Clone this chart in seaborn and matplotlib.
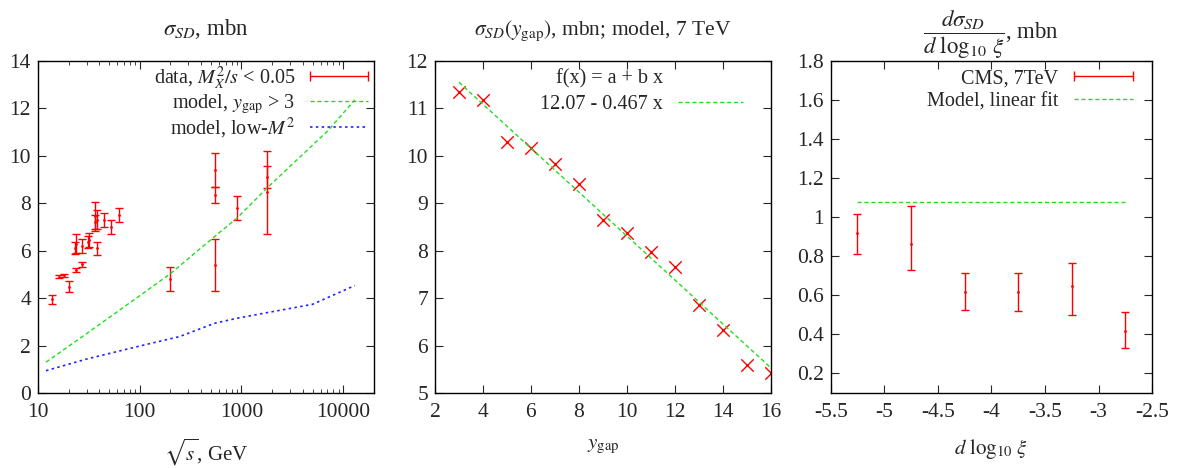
import numpy as np
import pandas as pd
import matplotlib
matplotlib.use("Agg")
import matplotlib.pyplot as plt
from matplotlib.lines import Line2D
from matplotlib.ticker import FixedLocator, FixedFormatter, LogLocator, NullFormatter
import seaborn as sns

# ---------------- data ----------------
# Panel 1: single diffraction cross section vs sqrt(s)
data_sqrt_s = [13.8, 16.2, 18.2, 20.0, 23.5, 23.0, 23.8, 27.0, 27.0, 31.0, 32.0,
               36.0, 36.0, 38.0, 38.0, 44.5, 52.5, 62.7, 200, 546, 546, 546,
               900, 1800, 1800]
data_sigma = [3.95, 4.9, 4.97, 4.48, 6.3, 6.1, 5.2, 6.2, 5.43, 6.35, 6.45,
              7.45, 7.2, 7.3, 6.1, 7.3, 7.0, 7.5, 4.8, 9.4, 8.35, 5.4,
              7.8, 9.12, 8.46]
data_err = [0.2, 0.07, 0.06, 0.23, 0.4, 0.25, 0.08, 0.3, 0.1, 0.25, 0.3,
            0.6, 0.3, 0.4, 0.28, 0.3, 0.28, 0.3, 0.5, 0.7, 0.35, 1.1,
            0.5, 0.47, 1.76]

gap_sqrt_s = [12, 30, 100, 200, 546, 900, 1800, 7000, 13000]
gap_sigma = [1.3, 2.5, 4.1, 5.03, 6.6, 7.37, 8.66, 11.04, 12.36]

lowm_sqrt_s = [12, 30, 100, 247, 546, 900, 1800, 5000, 13000]
lowm_sigma = [0.94, 1.43, 1.98, 2.38, 2.94, 3.15, 3.39, 3.74, 4.53]

# Panel 2: sigma_SD(y_gap), model 7 TeV
ygap = [3, 4, 5, 6, 7, 8, 9, 10, 11, 12, 13, 14, 15, 16]
sigma_ygap = [11.34, 11.17, 10.30, 10.16, 9.83, 9.40, 8.65, 8.38, 7.98, 7.65,
              6.85, 6.32, 5.58, 5.42]
fit_a = 12.94
fit_b = -0.463

# Panel 3: d sigma / d log10 xi, CMS 7 TeV
cms_x = [-5.25, -4.75, -4.25, -3.75, -3.25, -2.75]
cms_y = [0.92, 0.861, 0.618, 0.618, 0.649, 0.418]
cms_lo = [0.81, 0.729, 0.524, 0.519, 0.499, 0.328]
cms_hi = [1.014, 1.059, 0.716, 0.712, 0.767, 0.516]
model_level = 1.076

# ---------------- style ----------------
sns.set_style("ticks")
plt.rcParams['font.family'] = ['Liberation Serif', 'DejaVu Serif']
plt.rcParams['mathtext.fontset'] = 'stix'
plt.rcParams['font.size'] = 15
plt.rcParams['xtick.labelsize'] = 15.5
plt.rcParams['ytick.labelsize'] = 15.5
plt.rcParams['xtick.direction'] = 'in'
plt.rcParams['ytick.direction'] = 'in'
plt.rcParams['xtick.top'] = True
plt.rcParams['ytick.right'] = True
plt.rcParams['xtick.major.size'] = 6
plt.rcParams['ytick.major.size'] = 6
plt.rcParams['xtick.minor.size'] = 3
plt.rcParams['xtick.major.pad'] = 7
plt.rcParams['ytick.major.pad'] = 5
plt.rcParams['axes.linewidth'] = 1.0

RED = '#ff0000'
GREEN = '#22dd22'
BLUE = '#2222ff'

fig = plt.figure(figsize=(11.83, 4.68), dpi=100)
bottom, top = 0.1603, 0.8697
ax1 = fig.add_axes([0.0321, bottom, 0.316 - 0.0321, top - bottom])
ax2 = fig.add_axes([0.3677, bottom, 0.6515 - 0.3677, top - bottom])
ax3 = fig.add_axes([0.7022, bottom, 0.974 - 0.7022, top - bottom])

dash_style = (0, (3, 2))
dot_style = (0, (1.5, 2))

leg_kw = dict(frameon=False, markerfirst=False, borderaxespad=0,
              borderpad=0, fontsize=14.5, loc='upper right')

# ---------------- panel 1 ----------------
ax1.set_xscale('log')
ax1.errorbar(data_sqrt_s, data_sigma, yerr=data_err, fmt='.', color=RED,
             markersize=2, elinewidth=1.0, capsize=3, capthick=1.0)
df_gap = pd.DataFrame({'s': gap_sqrt_s, 'v': gap_sigma})
df_low = pd.DataFrame({'s': lowm_sqrt_s, 'v': lowm_sigma})
sns.lineplot(data=df_gap, x='s', y='v', ax=ax1, color=GREEN, lw=1.0,
             linestyle=dash_style)
sns.lineplot(data=df_low, x='s', y='v', ax=ax1, color=BLUE, lw=1.2,
             linestyle=dot_style)
ax1.set_xlim(10, 20000)
ax1.set_ylim(0, 14)
ax1.xaxis.set_major_locator(FixedLocator([10, 100, 1000, 10000]))
ax1.xaxis.set_major_formatter(FixedFormatter(['10', '100', '1000', '10000']))
ax1.xaxis.set_minor_locator(LogLocator(base=10, subs=np.arange(2, 10)))
ax1.xaxis.set_minor_formatter(NullFormatter())
ax1.set_yticks(np.arange(0, 15, 2))
ax1.set_title(r'$\sigma_{SD}$, mbn', pad=19, fontsize=16.5)
ax1.set_xlabel(r'$\sqrt{s}$, GeV', labelpad=11, fontsize=15)
ax1.set_ylabel('')

h_data = Line2D([], [], color=RED, lw=1.0, marker='|', markersize=7, mew=1.0)
h_gap = Line2D([], [], color=GREEN, lw=1.0, linestyle=dash_style)
h_low = Line2D([], [], color=BLUE, lw=1.2, linestyle=dot_style)
ax1.legend([h_data, h_gap, h_low],
           [r'data, $M_X^2/s$ < 0.05', r'model, $y_{\rm gap}$ > 3',
            r'model, low-$M^2$'],
           numpoints=2, handlelength=3.45, handletextpad=0.45,
           labelspacing=0.0, bbox_to_anchor=(1.0, 0.99), **leg_kw)

# ---------------- panel 2 ----------------
df_y = pd.DataFrame({'y': ygap, 's': sigma_ygap})
sns.scatterplot(data=df_y, x='y', y='s', ax=ax2, marker='x', color=RED,
                s=80, linewidth=1.0)
fit_line = pd.DataFrame({'y': ygap, 'f': [fit_a + fit_b * v for v in ygap]})
sns.lineplot(data=fit_line, x='y', y='f', ax=ax2, color=GREEN, lw=1.0,
             linestyle=dash_style)
ax2.set_xlim(2, 16)
ax2.set_ylim(5, 12)
ax2.set_xticks(np.arange(2, 17, 2))
ax2.set_yticks(np.arange(5, 13, 1))
ax2.set_title(r'$\sigma_{SD}(y_{\rm gap})$, mbn; model, 7 TeV', pad=19,
              fontsize=15.5)
ax2.set_xlabel(r'$y_{\rm gap}$', labelpad=11, fontsize=15)
ax2.set_ylabel('')
h_blank = Line2D([], [], color='none', lw=0)
h_fit = Line2D([], [], color=GREEN, lw=1.0, linestyle=dash_style)
ax2.legend([h_blank, h_fit], ['f(x) = a + b x', '12.07 - 0.467 x'],
           handlelength=3.2, handletextpad=0.75, labelspacing=0.3,
           bbox_to_anchor=(0.917, 0.975), **leg_kw)

# ---------------- panel 3 ----------------
yerr = [np.array(cms_y) - np.array(cms_lo), np.array(cms_hi) - np.array(cms_y)]
ax3.errorbar(cms_x, cms_y, yerr=yerr, fmt='.', color=RED, markersize=2,
             elinewidth=1.0, capsize=3, capthick=1.0)
df_model = pd.DataFrame({'x': [cms_x[0], cms_x[-1]],
                         'y': [model_level, model_level]})
sns.lineplot(data=df_model, x='x', y='y', ax=ax3, color=GREEN, lw=1.0,
             linestyle=dash_style)
ax3.set_xlim(-5.5, -2.5)
ax3.set_ylim(0.1, 1.8)
ax3.set_xticks([-5.5, -5, -4.5, -4, -3.5, -3, -2.5])
ax3.set_xticklabels(['-5.5', '-5', '-4.5', '-4', '-3.5', '-3', '-2.5'])
ax3.set_yticks([0.2, 0.4, 0.6, 0.8, 1.0, 1.2, 1.4, 1.6, 1.8])
ax3.set_yticklabels(['0.2', '0.4', '0.6', '0.8', '1', '1.2', '1.4', '1.6', '1.8'])
ax3.set_title(r'$\dfrac{d\sigma_{SD}}{d\ \log_{10}\,\xi}$, mbn', pad=12,
              fontsize=16.5)
ax3.set_xlabel(r'$d\ \log_{10}\,\xi$', labelpad=11, fontsize=15)
ax3.set_ylabel('')
h_cms = Line2D([], [], color=RED, lw=1.0, marker='|', markersize=7, mew=1.0)
h_mod = Line2D([], [], color=GREEN, lw=1.0, linestyle=dash_style)
ax3.legend([h_cms, h_mod], ['CMS, 7TeV', 'Model, linear fit'],
           numpoints=2, handlelength=3.55, handletextpad=0.45,
           labelspacing=0.2, bbox_to_anchor=(0.959, 0.975), **leg_kw)

for ax in (ax1, ax2, ax3):
    for sp in ax.spines.values():
        sp.set_visible(True)
        sp.set_color('black')

fig.savefig('out.png', dpi=100)
